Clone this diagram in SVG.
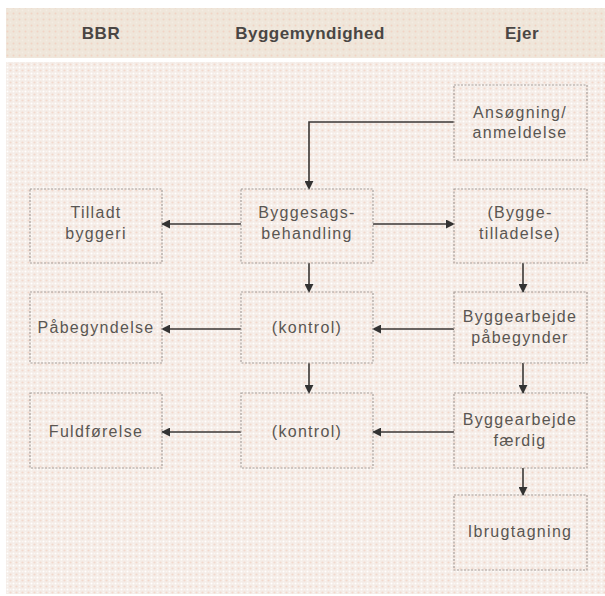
<svg xmlns="http://www.w3.org/2000/svg" width="605" height="596" viewBox="0 0 605 596">
  <defs>
    <pattern id="bodyDots" width="6" height="6" patternUnits="userSpaceOnUse">
      <rect width="6" height="6" fill="#f5ede8"/>
      <circle cx="1.5" cy="1.5" r="1" fill="#ffffff"/>
      <circle cx="4.5" cy="4.5" r="1.1" fill="#f2d9cc"/>
      <circle cx="4.5" cy="1.5" r="0.8" fill="#fbf6f3"/>
      <circle cx="1.5" cy="4.5" r="0.8" fill="#fbf6f3"/>
    </pattern>
    <pattern id="headDots" width="6" height="6" patternUnits="userSpaceOnUse">
      <rect width="6" height="6" fill="#efe6da"/>
      <circle cx="1.5" cy="1.5" r="1" fill="#f1d3c4"/>
      <circle cx="4.5" cy="4.5" r="0.9" fill="#f4ece3"/>
    </pattern>
    <marker id="arr" viewBox="0 0 10 10" refX="9" refY="5" markerWidth="9" markerHeight="9" markerUnits="userSpaceOnUse" orient="auto">
      <path d="M0,0 L10,5 L0,10 z" fill="#333"/>
    </marker>
    <style>
      .box { fill: none; stroke: #a8a09c; stroke-width: 1.2; stroke-dasharray: 2 1.5; }
      .lbl { font-family: "Liberation Sans", Arial, sans-serif; font-size: 16px; fill: #5a5652; text-anchor: middle; letter-spacing: 1.3px; }
      .hdr { font-family: "Liberation Sans", Arial, sans-serif; font-size: 17px; font-weight: bold; fill: #4a4644; text-anchor: middle; letter-spacing: 0.5px; }
      .con { fill: none; stroke: #3a3634; stroke-width: 1.6; marker-end: url(#arr); }
    </style>
  </defs>

  <rect width="605" height="596" fill="#ffffff"/>
  <rect x="6" y="8" width="599" height="50" fill="url(#headDots)"/>
  <rect x="6" y="62" width="599" height="532" fill="url(#bodyDots)"/>

  <g id="headers">
    <text class="hdr" x="101" y="39">BBR</text>
    <text class="hdr" x="310" y="39">Byggemyndighed</text>
    <text class="hdr" x="522" y="39">Ejer</text>
  </g>

  <g id="connectors">
    <path class="con" d="M454,122 H309 V189"/>
    <path class="con" d="M241,224 H162"/>
    <path class="con" d="M373,224 H454"/>
    <path class="con" d="M309,263 V292"/>
    <path class="con" d="M523,263 V292"/>
    <path class="con" d="M454,329 H373"/>
    <path class="con" d="M241,329 H162"/>
    <path class="con" d="M309,363 V393"/>
    <path class="con" d="M523,363 V393"/>
    <path class="con" d="M454,432 H373"/>
    <path class="con" d="M241,432 H162"/>
    <path class="con" d="M523,468 V495"/>
  </g>

  <g id="ansoegning">
    <rect class="box" x="454" y="85" width="133" height="75"/>
    <text class="lbl" x="520" y="118">Ansøgning/</text>
    <text class="lbl" x="520" y="138">anmeldelse</text>
  </g>
  <g id="tilladt">
    <rect class="box" x="30" y="189" width="132" height="74"/>
    <text class="lbl" x="96" y="218">Tilladt</text>
    <text class="lbl" x="96" y="239">byggeri</text>
  </g>
  <g id="byggesag">
    <rect class="box" x="241" y="189" width="132" height="74"/>
    <text class="lbl" x="307" y="218">Byggesags-</text>
    <text class="lbl" x="307" y="239">behandling</text>
  </g>
  <g id="byggetilladelse">
    <rect class="box" x="454" y="189" width="133" height="74"/>
    <text class="lbl" x="520" y="218">(Bygge-</text>
    <text class="lbl" x="520" y="239">tilladelse)</text>
  </g>
  <g id="paabegyndelse">
    <rect class="box" x="30" y="292" width="132" height="71"/>
    <text class="lbl" x="96" y="333">Påbegyndelse</text>
  </g>
  <g id="kontrol1">
    <rect class="box" x="241" y="292" width="132" height="71"/>
    <text class="lbl" x="307" y="333">(kontrol)</text>
  </g>
  <g id="paabegynder">
    <rect class="box" x="454" y="292" width="133" height="71"/>
    <text class="lbl" x="520" y="322">Byggearbejde</text>
    <text class="lbl" x="520" y="343">påbegynder</text>
  </g>
  <g id="fuldfoerelse">
    <rect class="box" x="30" y="393" width="132" height="75"/>
    <text class="lbl" x="96" y="437">Fuldførelse</text>
  </g>
  <g id="kontrol2">
    <rect class="box" x="241" y="393" width="132" height="75"/>
    <text class="lbl" x="307" y="437">(kontrol)</text>
  </g>
  <g id="faerdig">
    <rect class="box" x="454" y="393" width="133" height="75"/>
    <text class="lbl" x="520" y="425">Byggearbejde</text>
    <text class="lbl" x="520" y="446">færdig</text>
  </g>
  <g id="ibrugtagning">
    <rect class="box" x="454" y="495" width="133" height="75"/>
    <text class="lbl" x="520" y="537">Ibrugtagning</text>
  </g>
</svg>
